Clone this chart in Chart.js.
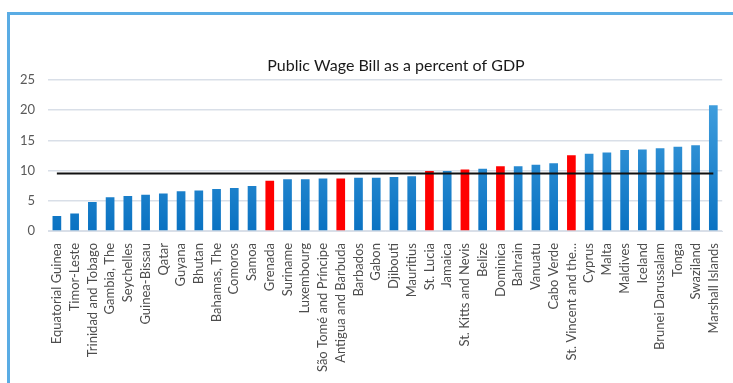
<!DOCTYPE html>
<html>
<head>
<meta charset="utf-8">
<script src="https://cdn.jsdelivr.net/npm/chart.js@4.4.1/dist/chart.umd.min.js"></script>
<style>
    body { margin: 0; background: #fff; }
    #frame {
        position: absolute; left: 7px; top: 12px; width: 740px; height: 390px;
        border-left: 3px solid #5aace4; border-top: 3px solid #5aace4;
    }
    #wrap { position: absolute; left: 10px; top: 15px; width: 723px; height: 368px; }
</style>
</head>
<body>
<div id="frame"></div>
<div id="wrap"><canvas id="canvas"></canvas></div>
<script>
var countries = ["Equatorial Guinea", "Timor-Leste", "Trinidad and Tobago", "Gambia, The", "Seychelles",
    "Guinea-Bissau", "Qatar", "Guyana", "Bhutan", "Bahamas, The", "Comoros", "Samoa", "Grenada",
    "Suriname", "Luxembourg", "São Tomé and Príncipe", "Antigua and Barbuda", "Barbados", "Gabon",
    "Djibouti", "Mauritius", "St. Lucia", "Jamaica", "St. Kitts and Nevis", "Belize", "Dominica",
    "Bahrain", "Vanuatu", "Cabo Verde", "St. Vincent and the...", "Cyprus", "Malta", "Maldives",
    "Iceland", "Brunei Darussalam", "Tonga", "Swaziland", "Marshall Islands"];
var wageBill = [2.5, 2.9, 4.8, 5.6, 5.8, 6.0, 6.2, 6.6, 6.7, 6.95, 7.1, 7.45, 8.3,
    8.55, 8.55, 8.7, 8.7, 8.8, 8.8, 8.95, 9.05, 9.95, 9.95, 10.2, 10.3, 10.7,
    10.7, 10.95, 11.2, 12.55, 12.8, 13.0, 13.4, 13.5, 13.7, 13.95, 14.2, 20.8];
// highlighted countries (red bars)
var highlighted = ["Grenada", "Antigua and Barbuda", "St. Lucia", "St. Kitts and Nevis",
    "Dominica", "St. Vincent and the..."];
var average = 9.5;
var yTicks = [0, 5, 10, 15, 20, 25];
var chartTitle = 'Public Wage Bill as a percent of GDP';

var ctx = document.getElementById("canvas").getContext("2d");

function barColor(context) {
    var label = countries[context.dataIndex];
    if (highlighted.indexOf(label) > -1) return "#ff0000";
    var area = context.chart.chartArea;
    if (!area) return "#1a86d0";
    var g = context.chart.ctx.createLinearGradient(0, area.top, 0, area.bottom);
    g.addColorStop(0, "#4aa6e2");
    g.addColorStop(1, "#0a72c2");
    return g;
}

/* title drawn a bit right of centre, like the original */
var titlePlugin = {
    id: 'offsetTitle',
    afterDraw: function (chart) {
        var c = chart.ctx;
        c.save();
        c.font = '16px Lato';
        c.fillStyle = '#1a1a1a';
        c.textAlign = 'center';
        c.textBaseline = 'middle';
        c.fillText(chartTitle, 386, 51);
        c.restore();
    }
};

var chart = new Chart(ctx, {
    type: 'bar',
    data: {
        labels: countries,
        datasets: [
            {
                type: 'line',
                label: 'Average',
                data: [{x: countries[0], y: average}, {x: countries[countries.length - 1], y: average}],
                borderColor: "#111",
                borderWidth: 2,
                pointRadius: 0,
                fill: false,
                order: 0
            },
            {
                label: 'Public Wage Bill',
                data: wageBill,
                backgroundColor: barColor,
                barPercentage: 0.49,
                categoryPercentage: 1.0,
                order: 1
            }]
    },
    plugins: [titlePlugin],
    options: {
        responsive: true,
        maintainAspectRatio: false,
        animation: false,
        layout: { padding: { top: 65, right: 6, left: 0, bottom: 0 } },
        plugins: {
            legend: { display: false },
            tooltip: { enabled: false },
            title: { display: false }
        },
        scales: {
            x: {
                grid: { display: false },
                border: { color: '#d9dfe8', width: 1 },
                ticks: {
                    autoSkip: false,
                    minRotation: 90,
                    maxRotation: 90,
                    color: '#4d4d4d',
                    padding: 4,
                    font: { family: 'Lato', size: 13 }
                },
                afterFit: function (scale) { scale.height = 152; }
            },
            y: {
                min: 0,
                max: 25,
                afterBuildTicks: function (scale) {
                    scale.ticks = yTicks.map(function (v) { return { value: v }; });
                },
                grid: { color: '#d9dfe8', drawTicks: false, lineWidth: 1.5 },
                border: { display: false },
                ticks: {
                    color: '#595959',
                    padding: 13,
                    font: { family: 'Lato', size: 13 }
                },
                afterFit: function (scale) { scale.width = 38; }
            }
        }
    }
});
</script>
</body>
</html>
